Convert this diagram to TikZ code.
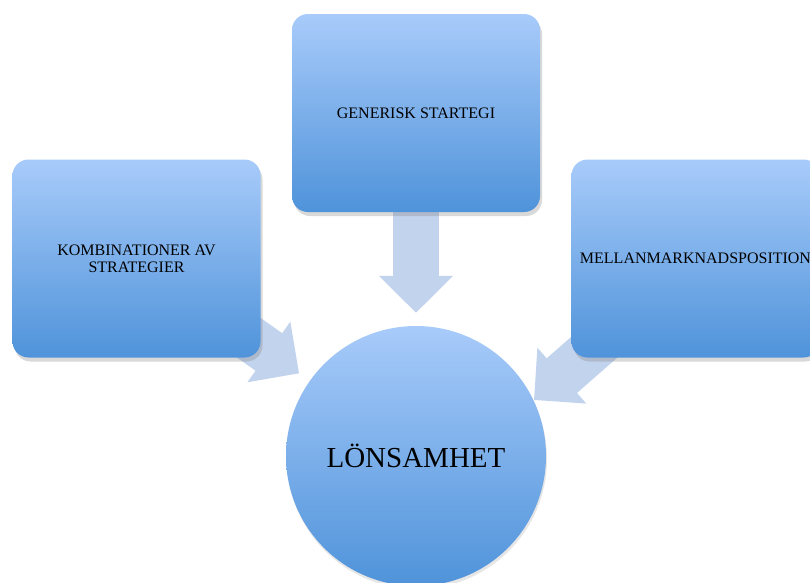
\documentclass[tikz,border=0pt]{standalone}
\usepackage{fontspec}
\setmainfont{Liberation Serif}
\usetikzlibrary{positioning, shadows, arrows.meta, backgrounds}
\definecolor{boxtop}{HTML}{A8CBFA}
\definecolor{boxbot}{HTML}{4F93DA}
\definecolor{arrowfill}{HTML}{C2D3EE}
\tikzset{
    box/.style={
        rectangle,
        rounded corners=16pt,
        minimum width=248pt,
        minimum height=198pt,
        inner sep=1pt,
        align=center,
        top color=boxtop,
        bottom color=boxbot,
        font=\fontsize{16}{17}\selectfont,
        drop shadow={shadow xshift=2pt, shadow yshift=-4pt, opacity=0.3}
    },
    goal/.style={
        circle,
        minimum size=260pt,
        top color=boxtop,
        bottom color=boxbot,
        font=\fontsize{29}{33}\selectfont,
        drop shadow={shadow xshift=1pt, shadow yshift=-3pt, opacity=0.2}
    },
    blockarrow/.style={
        draw=arrowfill,
        line width=46pt,
        -{Triangle[width=72pt, length=37pt]},
        shorten >=13pt,
        shorten <=-30pt
    }
}

\begin{document}
\begin{tikzpicture}[x=1pt, y=-1pt]
	\clip (0,0) rectangle (810,582);
	\node[box] at (416,113) (strat) {GENERISK STARTEGI};
	\node[box] at (136.5,258.5) (komb) {KOMBINATIONER AV\\STRATEGIER};
	\node[box] at (695.5,258.5) (mell) {MELLANMARKNADSPOSITION};
	\node[goal] at (416,456) (lon) {LÖNSAMHET};
	\coordinate (mtip) at (534,400);
	\begin{scope}[on background layer]
	\draw[blockarrow] (strat) -- (lon);
	\draw[blockarrow] (komb) -- (lon);
	\draw[blockarrow, shorten >=0pt] (mell) -- (mtip);
	\end{scope}
\end{tikzpicture}
\end{document}
